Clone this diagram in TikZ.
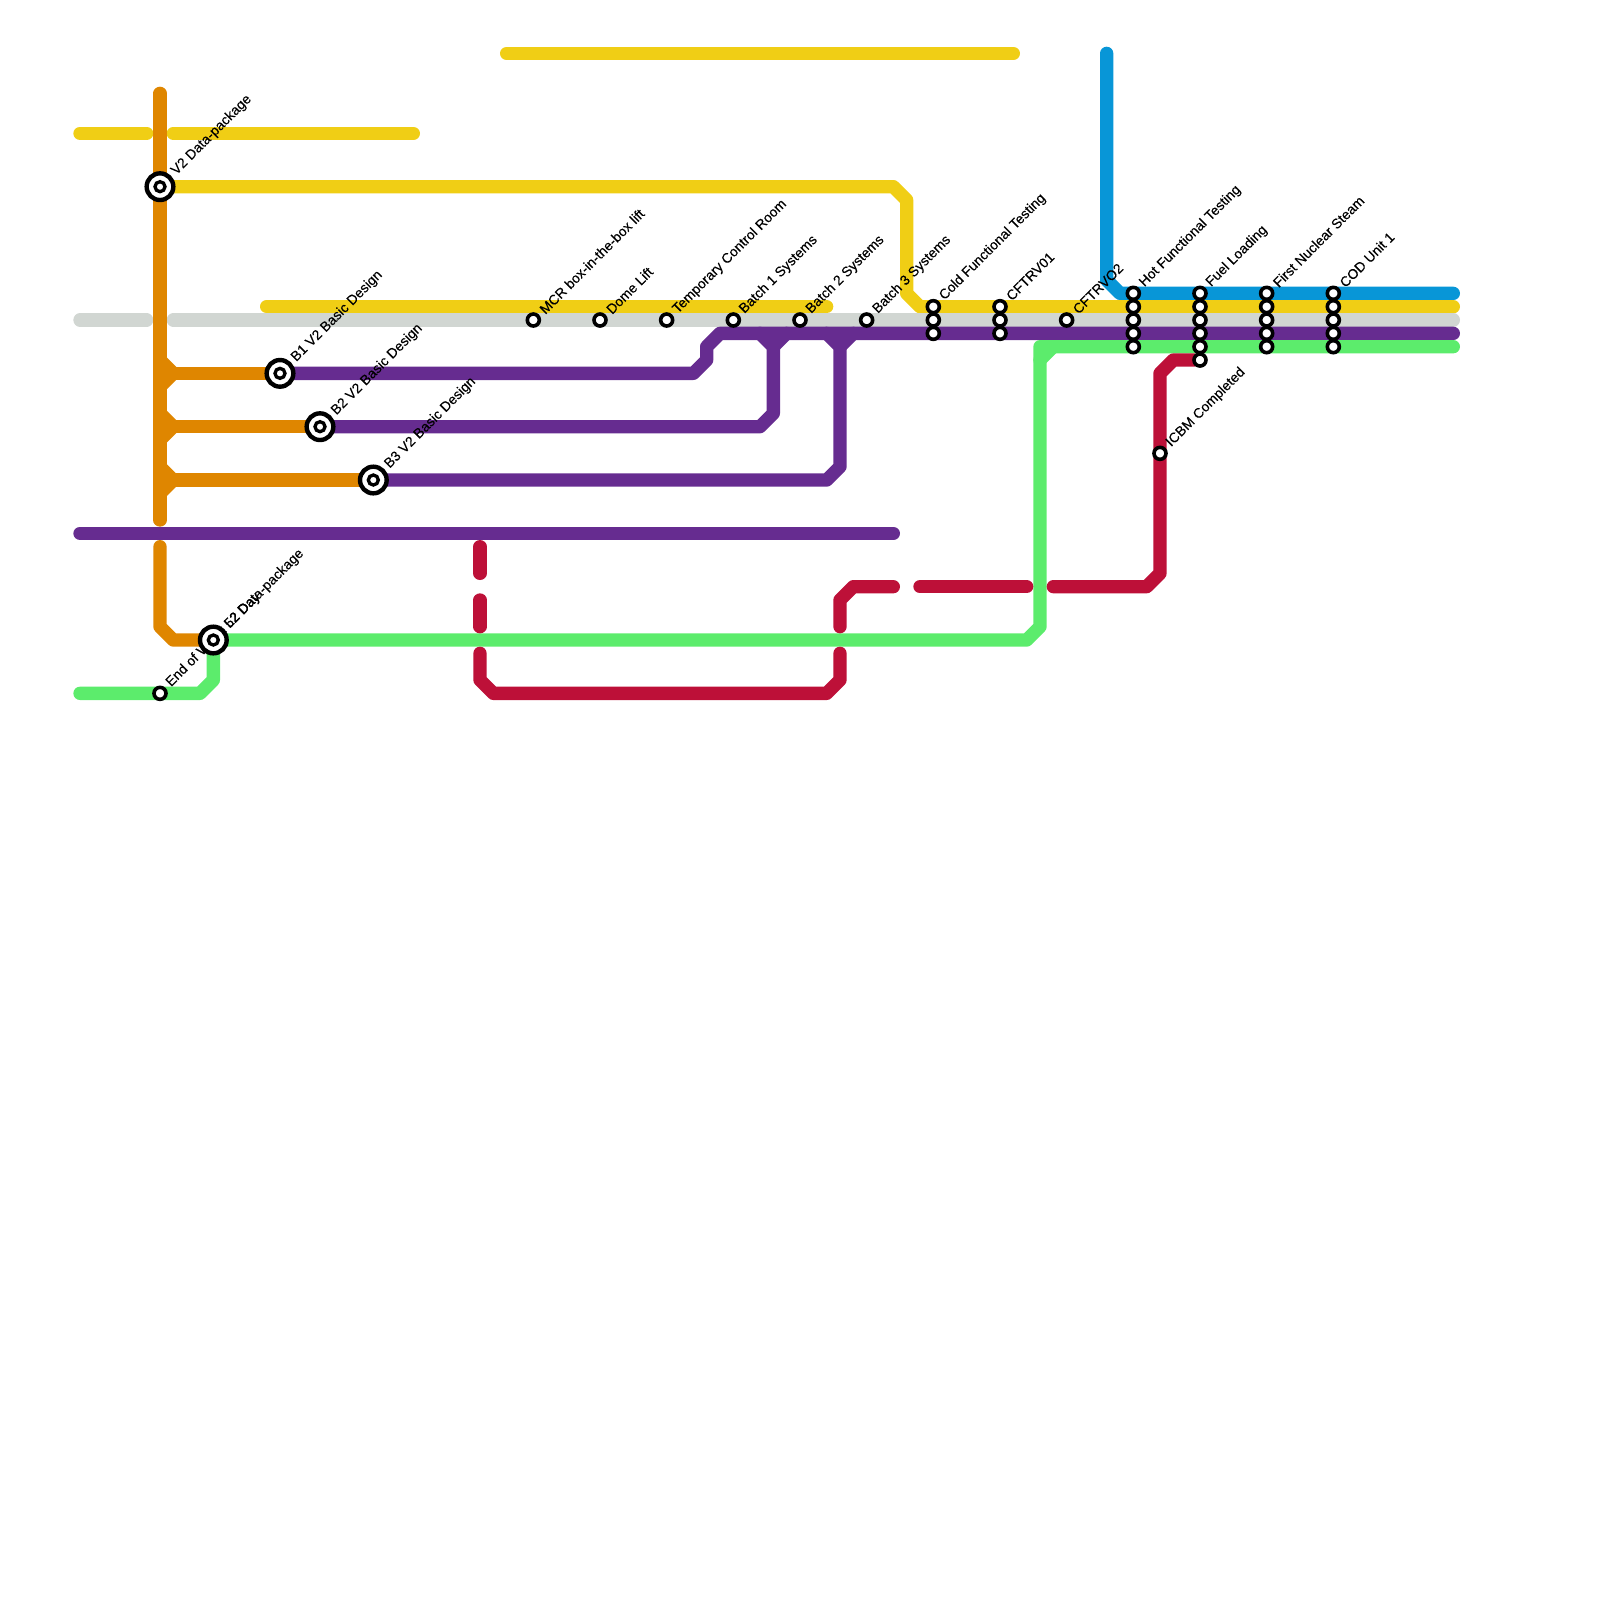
\documentclass[tikz,border=0pt]{standalone}
\usepackage{fontspec}
\setmainfont{Liberation Sans}
\newfontfamily\stopfont{Liberation Sans}[FakeBold=0.2]
\usepackage{xcolor}
\usetikzlibrary{backgrounds}
\definecolor{lineyellow}{HTML}{F0CE15}
\definecolor{linegrey}{HTML}{D1D6D2}
\definecolor{linepurple}{HTML}{662C90}
\definecolor{lineorange}{HTML}{DF8600}
\definecolor{linegreen}{HTML}{5CEC6C}
\definecolor{linered}{HTML}{BD1038}
\definecolor{lineblue}{HTML}{0896D7}

\begin{document}
\begin{tikzpicture}[
  x=1mm, y=-1mm,
  label distance=.33mm,
  track/.style={line width=1mm, line cap=round, line join=round},
  yellowtrack/.style={track, lineyellow},
  greytrack/.style={track, linegrey},
  purpletrack/.style={track, linepurple},
  orangetrack/.style={track, lineorange},
  greentrack/.style={track, linegreen},
  redtrack/.style={track, linered},
  bluetrack/.style={track, lineblue},
  stop/.style={circle, draw=black, fill=white, line width=.27mm, minimum size=.9mm,
               inner sep=0pt, outer sep=0pt},
  hub/.style={stop, line width=.33mm, minimum size=2mm,
              path picture={\draw[black, line width=.25mm] (path picture bounding box.center) circle (.375mm);}},
  stoplabel/.style={xshift=.28mm, yshift=-.05mm, rotate=45, anchor=west, inner sep=0pt,
                    font=\stopfont\fontsize{2.95}{3.6}\selectfont},
  every label/.style={stoplabel}
]
  \useasboundingbox (0,0) rectangle (120,120);

  % Stations
  \node[stop, label={45:End of Week 52 Day}] (endweek) at (12,52) {};
  \node[hub, label={45:V2 Data-package}] (pkgtop) at (12,14) {};
  \node[hub, label={45:L2 Data-package}] (pkglow) at (16,48) {};
  \node[hub, label={45:B1 V2 Basic Design}] (bone) at (21,28) {};
  \node[hub, label={45:B2 V2 Basic Design}] (btwo) at (24,32) {};
  \node[hub, label={45:B3 V2 Basic Design}] (bthree) at (28,36) {};
  \node[stop, label={45:MCR box-in-the-box lift}] (mcr) at (40,24) {};
  \node[stop, label={45:Dome Lift}] (dome) at (45,24) {};
  \node[stop, label={45:Temporary Control Room}] (tcr) at (50,24) {};
  \node[stop, label={45:Batch 1 Systems}] (batchone) at (55,24) {};
  \node[stop, label={45:Batch 2 Systems}] (batchtwo) at (60,24) {};
  \node[stop, label={45:Batch 3 Systems}] (batchthree) at (65,24) {};
  \node[stop, label={45:CFTRVO2}] (cftrvtwo) at (80,24) {};
  \node[stop, label={45:ICBM Completed}] (icbm) at (87,34) {};

  % Cold Functional Testing
  \node[stop, label={45:Cold Functional Testing}] (coldy) at (70,23) {};
  \node[stop] (coldg) at (70,24) {};
  \node[stop] (coldp) at (70,25) {};
  % CFTRV01
  \node[stop, label={45:CFTRV01}] (cfty) at (75,23) {};
  \node[stop] (cftg) at (75,24) {};
  \node[stop] (cftp) at (75,25) {};
  % Hot Functional Testing
  \node[stop, label={45:Hot Functional Testing}] (hotb) at (85,22) {};
  \node[stop] (hoty) at (85,23) {};
  \node[stop] (hotg) at (85,24) {};
  \node[stop] (hotp) at (85,25) {};
  \node[stop] (hotn) at (85,26) {};
  % Fuel Loading
  \node[stop, label={45:Fuel Loading}] (fuelb) at (90,22) {};
  \node[stop] (fuely) at (90,23) {};
  \node[stop] (fuelg) at (90,24) {};
  \node[stop] (fuelp) at (90,25) {};
  \node[stop] (fueln) at (90,26) {};
  \node[stop] (fuelr) at (90,27) {};
  % First Nuclear Steam
  \node[stop, label={45:First Nuclear Steam}] (steamb) at (95,22) {};
  \node[stop] (steamy) at (95,23) {};
  \node[stop] (steamg) at (95,24) {};
  \node[stop] (steamp) at (95,25) {};
  \node[stop] (steamn) at (95,26) {};
  % COD Unit 1
  \node[stop, label={45:COD Unit 1}] (codb) at (100,22) {};
  \node[stop] (cody) at (100,23) {};
  \node[stop] (codg) at (100,24) {};
  \node[stop] (codp) at (100,25) {};
  \node[stop] (codn) at (100,26) {};

  % Free line ends
  \coordinate (yellowtopw) at (38,4);
  \coordinate (yellowtope) at (76,4);
  \coordinate (yellowaw) at (6,10);
  \coordinate (yellowae) at (11,10);
  \coordinate (yellowbw) at (13,10);
  \coordinate (yellowbe) at (31,10);
  \coordinate (yellowcw) at (20,23);
  \coordinate (yellowce) at (62,23);
  \coordinate (yellowend) at (109,23);
  \coordinate (greyaw) at (6,24);
  \coordinate (greyae) at (11,24);
  \coordinate (greybw) at (13,24);
  \coordinate (greyend) at (109,24);
  \coordinate (bluetop) at (83,4);
  \coordinate (blueend) at (109,22);
  \coordinate (purplew) at (6,40);
  \coordinate (purplee) at (67,40);
  \coordinate (purpleend) at (109,25);
  \coordinate (orangetop) at (12,7);
  \coordinate (orangebot) at (12,39);
  \coordinate (orangelow) at (12,41);
  \coordinate (greenw) at (6,52);
  \coordinate (greenend) at (109,26);

  \begin{scope}[on background layer]
    \draw[bluetrack] (bluetop) -- (83,21) -- ++(1,1) -- (blueend);

    \draw[yellowtrack] (yellowtopw) -- (yellowtope);
    \draw[yellowtrack] (yellowaw) -- (yellowae);
    \draw[yellowtrack] (yellowbw) -- (yellowbe);
    \draw[yellowtrack] (pkgtop) -- (67,14) -- ++(1,1) -- (68,22) -- ++(1,1) -- (yellowend);
    \draw[yellowtrack] (yellowcw) -- (yellowce);

    \draw[greytrack] (greyaw) -- (greyae);
    \draw[greytrack] (greybw) -- (greyend);

    \draw[purpletrack] (purplew) -- (purplee);
    \draw[purpletrack] (bone) -- (52,28) -- ++(1,-1) -- (53,26) -- ++(1,-1) -- (purpleend);
    \draw[purpletrack] (btwo) -- (57,32) -- ++(1,-1) -- (58,26) -- ++(-1,-1);
    \draw[purpletrack] (58,26) -- ++(1,-1);
    \draw[purpletrack] (bthree) -- (62,36) -- ++(1,-1) -- (63,26) -- ++(-1,-1);
    \draw[purpletrack] (63,26) -- ++(1,-1);

    \draw[orangetrack] (orangetop) -- (orangebot);
    \draw[orangetrack] (orangelow) -- (12,47) -- ++(1,1) -- (pkglow);
    \draw[orangetrack] (12,27) -- (13,28) -- (12,29);
    \draw[orangetrack] (13,28) -- (bone);
    \draw[orangetrack] (12,31) -- (13,32) -- (12,33);
    \draw[orangetrack] (13,32) -- (btwo);
    \draw[orangetrack] (12,35) -- (13,36) -- (12,37);
    \draw[orangetrack] (13,36) -- (bthree);

    \draw[greentrack] (greenw) -- (15,52) -- ++(1,-1) -- (pkglow);
    \draw[greentrack] (pkglow) -- (77,48) -- ++(1,-1) -- (78,26) -- (greenend);
    \draw[greentrack] (78,27) -- ++(1,-1);

    \draw[redtrack] (36,41) -- (36,43);
    \draw[redtrack] (36,45) -- (36,47);
    \draw[redtrack] (36,49) -- (36,51) -- ++(1,1) -- (62,52) -- ++(1,-1) -- (63,49);
    \draw[redtrack] (63,47) -- (63,45) -- ++(1,-1) -- (67,44);
    \draw[redtrack] (69,44) -- (77,44);
    \draw[redtrack] (79,44) -- (86,44) -- ++(1,-1) -- (87,28) -- ++(1,-1) -- (fuelr);
  \end{scope}
\end{tikzpicture}
\end{document}
